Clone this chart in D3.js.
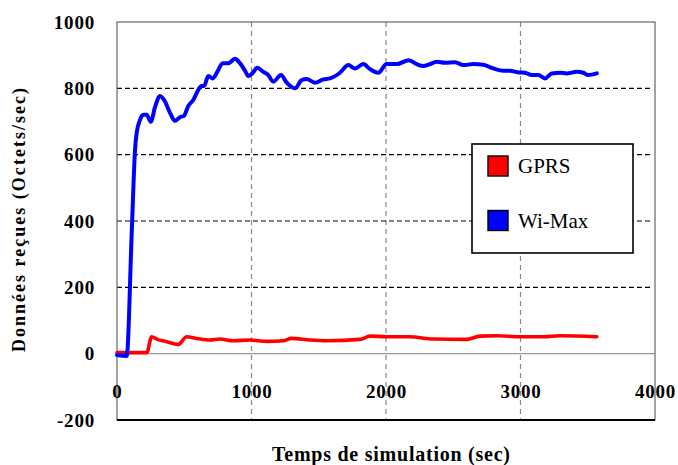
<!DOCTYPE html>
<html>
<head>
<meta charset="utf-8">
<script src="https://cdn.jsdelivr.net/npm/d3@7"></script>
<style>
  html, body { margin: 0; padding: 0; background: #fff; }
  svg { display: block; }
  .tick text { font-family: "Liberation Serif", serif; font-weight: bold; font-size: 19px; fill: #000; letter-spacing: 0.8px; }
</style>
</head>
<body>
<svg id="chart" width="678" height="465"></svg>
<script>
// Throughput received over simulation time, GPRS vs Wi-Max
const wimaxTime = [0, 72, 110, 134, 146, 171, 196, 221, 251, 283, 320, 357, 394, 431, 468, 498, 530, 567, 604, 625, 647, 679, 712, 746, 786, 828, 877, 914, 952, 976, 1006, 1043, 1088, 1125, 1162, 1219, 1262, 1323, 1373, 1410, 1472, 1534, 1584, 1658, 1720, 1770, 1831, 1881, 1943, 2005, 2080, 2171, 2228, 2277, 2327, 2377, 2439, 2513, 2575, 2649, 2723, 2798, 2872, 2922, 2984, 3033, 3083, 3132, 3182, 3232, 3294, 3343, 3418, 3467, 3504, 3567];
const wimaxValue = [-4, -7, 370, 614, 665, 705, 720, 720, 699, 744, 777, 760, 726, 702, 713, 717, 747, 765, 795, 807, 807, 837, 830, 850, 876, 876, 889, 876, 853, 837, 845, 862, 850, 840, 820, 840, 817, 800, 825, 828, 817, 827, 830, 847, 870, 860, 873, 858, 847, 873, 873, 885, 873, 867, 873, 880, 877, 879, 870, 873, 871, 860, 853, 853, 848, 847, 840, 840, 830, 845, 847, 845, 850, 847, 840, 845];

const gprsTime = [0, 221, 258, 295, 370, 456, 518, 593, 691, 766, 865, 989, 1113, 1236, 1298, 1435, 1559, 1807, 1881, 2005, 2178, 2352, 2600, 2699, 2823, 2996, 3170, 3294, 3567];
const gprsValue = [3, 3, 51, 44, 36, 28, 51, 46, 41, 44, 39, 41, 37, 39, 46, 41, 39, 43, 53, 51, 51, 44, 43, 53, 54, 51, 51, 54, 51];

const xTicks = [0, 1000, 2000, 3000, 4000];
const yTicks = [-200, 0, 200, 400, 600, 800, 1000];
const seriesNames = ["GPRS", "Wi-Max"];
const seriesColors = ["#ff0000", "#0000ff"];

const svg = d3.select("#chart");
const plotLeft = 117, plotRight = 655, plotTop = 22, plotBottom = 420;

const x = d3.scaleLinear().domain([0, 4000]).range([plotLeft, plotRight]);
const y = d3.scaleLinear().domain([-200, 1000]).range([plotBottom, plotTop]);

// vertical grid (grey dashed)
svg.append("g").selectAll("line")
  .data(xTicks.filter(d => d > 0 && d < 4000))
  .join("line")
  .attr("x1", d => x(d)).attr("x2", d => x(d))
  .attr("y1", plotTop).attr("y2", plotBottom)
  .attr("stroke", "#8a8a8a").attr("stroke-width", 1.2)
  .attr("stroke-dasharray", "5,4");

// horizontal grid (black dashed)
svg.append("g").selectAll("line")
  .data(yTicks.filter(d => d > 0 && d < 1000))
  .join("line")
  .attr("x1", plotLeft).attr("x2", plotRight - 4)
  .attr("y1", d => y(d)).attr("y2", d => y(d))
  .attr("stroke", "#000").attr("stroke-width", 1.2)
  .attr("stroke-dasharray", "5,3");

// zero line
svg.append("line")
  .attr("x1", plotLeft).attr("x2", plotRight)
  .attr("y1", y(0)).attr("y2", y(0))
  .attr("stroke", "#9a9a9a").attr("stroke-width", 1.2);

// plot frame
svg.append("rect")
  .attr("x", plotLeft).attr("y", plotTop)
  .attr("width", plotRight - plotLeft).attr("height", plotBottom - plotTop)
  .attr("fill", "none").attr("stroke", "#666").attr("stroke-width", 1.2);
svg.append("line")
  .attr("x1", plotLeft).attr("x2", plotRight)
  .attr("y1", plotBottom).attr("y2", plotBottom)
  .attr("stroke", "#000").attr("stroke-width", 1.8);

// axes labels (plain integers, hyphen for negatives)
const plain = d => String(d);
const yAxis = d3.axisLeft(y).tickValues(yTicks).tickSize(0).tickPadding(22).tickFormat(plain);
svg.append("g").attr("transform", `translate(${plotLeft},0)`).call(yAxis)
  .call(g => g.select(".domain").remove());

const xAxis = d3.axisBottom(x).tickValues(xTicks).tickSize(0).tickPadding(31).tickFormat(plain);
svg.append("g").attr("transform", `translate(0,${y(0)})`).call(xAxis)
  .call(g => g.select(".domain").remove());

// lines
const line = d3.line().curve(d3.curveMonotoneX);
function drawSeries(times, values, color, width) {
  svg.append("path")
    .attr("d", line(times.map((t, i) => [x(t), y(values[i])])))
    .attr("fill", "none")
    .attr("stroke", color)
    .attr("stroke-width", width)
    .attr("stroke-linejoin", "round")
    .attr("stroke-linecap", "round");
}
drawSeries(gprsTime, gprsValue, seriesColors[0], 3.6);
drawSeries(wimaxTime, wimaxValue, seriesColors[1], 4);

// legend
const lg = svg.append("g");
lg.append("rect")
  .attr("x", 472).attr("y", 144).attr("width", 161).attr("height", 109)
  .attr("fill", "#fff").attr("stroke", "#000").attr("stroke-width", 1.6);
seriesNames.forEach((name, i) => {
  const yy = 156 + i * 54.5;
  lg.append("rect")
    .attr("x", 488).attr("y", yy).attr("width", 20).attr("height", 20)
    .attr("fill", seriesColors[i]).attr("stroke", "#000").attr("stroke-width", 1.4);
  lg.append("text")
    .attr("x", 518).attr("y", yy + 17)
    .attr("font-family", "Liberation Serif, serif")
    .attr("font-size", 21)
    .text(name);
});

// axis titles
svg.append("text")
  .attr("transform", "translate(25,220) rotate(-90)")
  .attr("text-anchor", "middle")
  .attr("font-family", "Liberation Serif, serif")
  .attr("font-weight", "bold")
  .attr("font-size", 18)
  .attr("textLength", 264)
  .attr("lengthAdjust", "spacing")
  .text("Données reçues (Octets/sec)");

svg.append("text")
  .attr("x", 391).attr("y", 461)
  .attr("text-anchor", "middle")
  .attr("font-family", "Liberation Serif, serif")
  .attr("font-weight", "bold")
  .attr("font-size", 20)
  .attr("textLength", 238)
  .attr("lengthAdjust", "spacing")
  .text("Temps de simulation (sec)");
</script>
</body>
</html>
